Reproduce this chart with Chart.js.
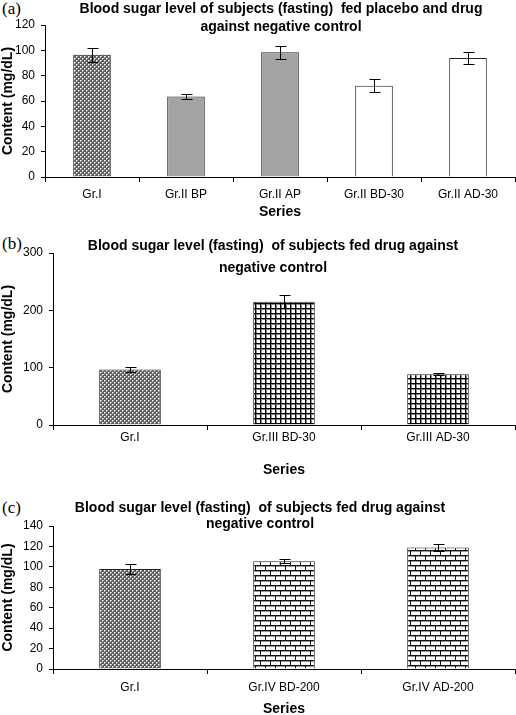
<!DOCTYPE html>
<html>
<head>
<meta charset="utf-8">
<script src="https://cdn.jsdelivr.net/npm/chart.js@4.4.0/dist/chart.umd.min.js"></script>
<style>
  html, body { margin: 0; padding: 0; background: #fff; overflow: hidden; }
  body { width: 516px; height: 715px; position: relative; }
  canvas { position: absolute; left: 0; }
  .lbl { position: absolute; left: 2px; font-family: "Liberation Serif", "Times New Roman", serif; font-size: 17px; line-height: 17px; color: #000; }
</style>
</head>
<body>
<div class="lbl" style="top:0px">(a)</div>
<div class="lbl" style="top:235px">(b)</div>
<div class="lbl" style="top:499px">(c)</div>
<canvas id="chartA" width="516" height="222" style="top:0px"></canvas>
<canvas id="chartB" width="516" height="251" style="top:228px"></canvas>
<canvas id="chartC" width="516" height="230" style="top:490px"></canvas>
<script>
// --- Datos ---
const labelsA = ["Gr.I", "Gr.II BP", "Gr.II AP", "Gr.II BD-30", "Gr.II AD-30"];
const valuesA = [96.5, 63.5, 98.5, 72, 94];
const errorsA = [5.5, 2, 5, 5, 5];
const titleA = ["Blood sugar level of subjects (fasting)  fed placebo and drug", "against negative control"];

const labelsB = ["Gr.I", "Gr.III BD-30", "Gr.III AD-30"];
const valuesB = [97, 215, 88.5];
const errorsB = [4.5, 11.5, 1.5];
const titleB = ["Blood sugar level (fasting)  of subjects fed drug against", "negative control"];

const labelsC = ["Gr.I", "Gr.IV BD-200", "Gr.IV AD-200"];
const valuesC = [98, 105.5, 119];
const errorsC = [5, 2, 3];
const titleC = ["Blood sugar level (fasting)  of subjects fed drug against", "negative control"];

const yTitle = "Content (mg/dL)";
const xTitle = "Series";

Chart.defaults.font.family = '"Liberation Sans", Arial, sans-serif';
Chart.defaults.color = "#000";

// --- Tramas de relleno ---
function makePattern(w, h, draw) {
  const c = document.createElement("canvas");
  c.width = w; c.height = h;
  const g = c.getContext("2d");
  draw(g);
  return g.createPattern(c, "repeat");
}

const crossHatch = makePattern(4, 4, g => {
  g.fillStyle = "#5e5e5e"; g.fillRect(0, 0, 4, 4);
  g.fillStyle = "#fff";
  g.fillRect(0, 0, 1, 1); g.fillRect(2, 2, 1, 1);
  g.fillStyle = "#bdbdbd";
  g.fillRect(1, 0, 1, 1); g.fillRect(3, 2, 1, 1);
  g.fillRect(0, 1, 1, 1); g.fillRect(2, 3, 1, 1);
});

const gridFill = makePattern(5, 5, g => {
  g.fillStyle = "#fff"; g.fillRect(0, 0, 5, 5);
  g.fillStyle = "#888";
  g.fillRect(0, 1, 5, 1); g.fillRect(1, 0, 1, 5);
  g.fillStyle = "#000";
  g.fillRect(0, 0, 5, 1); g.fillRect(0, 0, 1, 5);
});

const brickFill = makePattern(10, 10, g => {
  g.fillStyle = "#fff"; g.fillRect(0, 0, 10, 10);
  g.fillStyle = "#999";
  g.fillRect(0, 1, 10, 1); g.fillRect(0, 6, 10, 1);
  g.fillStyle = "#111";
  g.fillRect(0, 0, 10, 1); g.fillRect(0, 5, 10, 1);
  g.fillRect(0, 0, 1, 5); g.fillRect(5, 5, 1, 5);
});

const grayFill = "#a3a3a3";
const whiteFill = "#ffffff";

// --- Plugins ---
const panelTitle = {
  id: "panelTitle",
  afterDraw(chart, args, opts) {
    const ctx = chart.ctx;
    ctx.save();
    ctx.font = 'bold 14px "Liberation Sans", Arial, sans-serif';
    ctx.fillStyle = "#000";
    ctx.textAlign = "center";
    ctx.textBaseline = "alphabetic";
    opts.lines.forEach((t, i) => ctx.fillText(t, opts.x, opts.y[i]));
    ctx.restore();
  }
};

const errorBars = {
  id: "errorBars",
  afterDatasetsDraw(chart, args, opts) {
    const { ctx } = chart;
    const y = chart.scales.y;
    const vals = chart.data.datasets[0].data;
    const meta = chart.getDatasetMeta(0);
    ctx.save();
    ctx.strokeStyle = "#000";
    ctx.lineWidth = 1;
    meta.data.forEach((bar, i) => {
      const x = Math.round(bar.x) + 0.5;
      const top = Math.round(y.getPixelForValue(vals[i] + opts.errors[i])) + 0.5;
      const bot = Math.round(y.getPixelForValue(vals[i] - opts.errors[i])) + 0.5;
      ctx.beginPath();
      ctx.moveTo(x, top); ctx.lineTo(x, bot);
      ctx.moveTo(x - 5, top); ctx.lineTo(x + 6, top);
      ctx.moveTo(x - 5, bot); ctx.lineTo(x + 6, bot);
      ctx.stroke();
    });
    ctx.restore();
  }
};

function makeChart(id, labels, values, errors, fills, cfg) {
  return new Chart(document.getElementById(id), {
    type: "bar",
    data: {
      labels: labels,
      datasets: [{
        data: values,
        backgroundColor: fills,
        borderColor: "#222",
        borderWidth: 1,
        categoryPercentage: 1,
        barPercentage: 0.4
      }]
    },
    options: {
      responsive: false,
      animation: false,
      layout: { padding: { top: cfg.padTop, right: 1, left: 0, bottom: 0 } },
      plugins: {
        legend: { display: false },
        tooltip: { enabled: false },
        panelTitle: { lines: cfg.title, x: cfg.titleX, y: cfg.titleY },
        errorBars: { errors: errors }
      },
      scales: {
        x: {
          afterFit: s => { s.height = cfg.xHeight; },
          grid: { display: true, drawOnChartArea: false, offset: true, tickLength: 5, color: "#000" },
          border: { color: "#000", width: 1 },
          ticks: { font: { size: 12 }, padding: cfg.xTickPad, maxRotation: 0, autoSkip: false, color: "#000" },
          title: { display: true, text: xTitle, font: { size: 14, weight: "bold" }, padding: { top: 0, bottom: cfg.xTitlePad } }
        },
        y: {
          min: 0,
          max: cfg.yMax,
          afterFit: s => { s.width = cfg.yWidth; },
          grid: { display: true, drawOnChartArea: false, tickLength: 4, color: "#000" },
          border: { color: "#000", width: 1 },
          ticks: { stepSize: cfg.yStep, font: { size: 12 }, padding: 6, color: "#000" },
          title: { display: true, text: yTitle, font: { size: 14, weight: "bold" }, padding: { top: 0, bottom: 0 } }
        }
      }
    },
    plugins: [panelTitle, errorBars]
  });
}

makeChart("chartA", labelsA, valuesA, errorsA,
  [crossHatch, grayFill, grayFill, whiteFill, whiteFill],
  { padTop: 25, xHeight: 45, yWidth: 45, yMax: 120, yStep: 20, xTickPad: 5, xTitlePad: 1,
    title: titleA, titleX: 281, titleY: [13, 31] });

makeChart("chartB", labelsB, valuesB, errorsB,
  [crossHatch, gridFill, gridFill],
  { padTop: 25, xHeight: 54, yWidth: 53, yMax: 300, yStep: 100, xTickPad: 0, xTitlePad: 0,
    title: titleB, titleX: 273, titleY: [22, 44] });

makeChart("chartC", labelsC, valuesC, errorsC,
  [crossHatch, brickFill, brickFill],
  { padTop: 36, xHeight: 51, yWidth: 53, yMax: 140, yStep: 20, xTickPad: 6, xTitlePad: 2,
    title: titleC, titleX: 260, titleY: [22, 38] });
</script>
</body>
</html>
